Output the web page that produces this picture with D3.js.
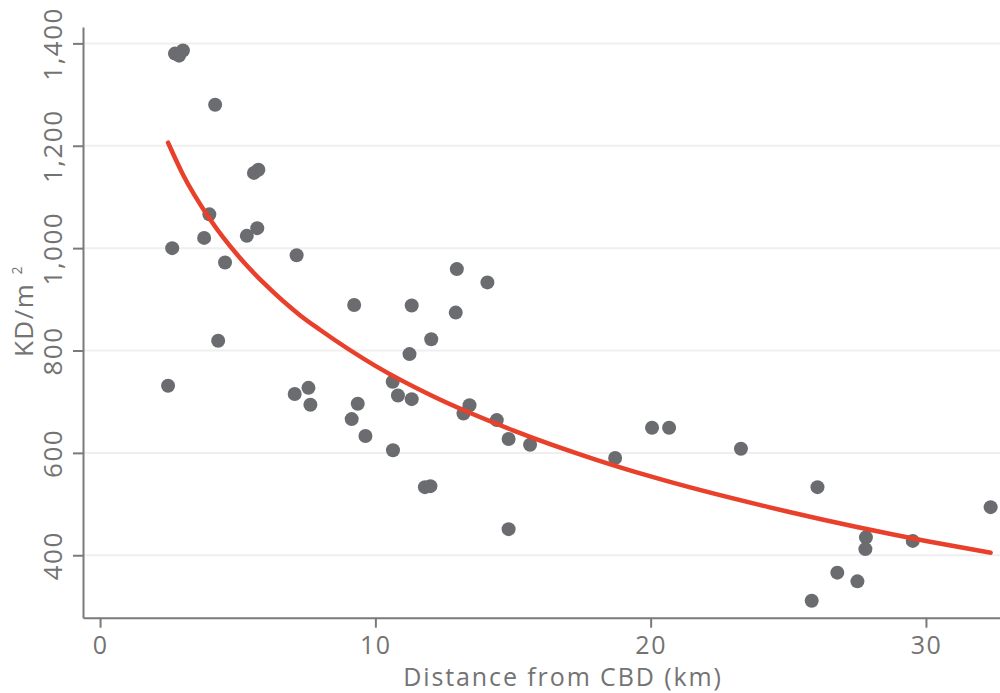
<!DOCTYPE html>
<html>
<head>
<meta charset="utf-8">
<script src="https://cdn.jsdelivr.net/npm/d3@7"></script>
<style>
  html, body { margin: 0; padding: 0; background: #fff; }
  svg { display: block; }
  text { font-family: "Open Sans", sans-serif; fill: #737373; letter-spacing: 1.5px; }
</style>
</head>
<body>
<svg id="chart" width="1000" height="693"></svg>
<script>
// Scatter data: distance from CBD (km) and KD/m²
const distKm = [2.47, 2.62, 2.72, 2.87, 3.01, 4.18, 3.78, 3.97, 4.54, 4.29,
  5.33, 5.71, 5.59, 5.75, 7.14, 9.23, 11.32, 12.96, 14.07, 12.92,
  12.03, 11.24, 7.07, 7.57, 7.64, 9.36, 9.14, 9.64, 10.64, 10.63,
  10.82, 11.32, 13.42, 13.2, 14.41, 14.84, 15.62, 11.8, 12.0, 14.84,
  18.71, 20.05, 20.67, 23.28, 26.06, 27.82, 27.8, 29.52, 32.35, 26.78,
  27.51, 25.85];
const kdValues = [731, 1000, 1380, 1376, 1386, 1280, 1020, 1066, 972, 819,
  1024, 1039, 1147, 1153, 986, 889, 888, 959, 933, 874,
  822, 793, 715, 727, 694, 696, 666, 633, 605, 739,
  712, 705, 693, 677, 664, 627, 616, 533, 535, 451,
  590, 649, 649, 608, 533, 435, 412, 428, 494, 366,
  349, 311];

// Trend line, points
const trendX = [2.47, 3, 4, 5, 6, 7.26, 8, 10, 12, 15, 18, 20, 25, 30, 32.35];
const trendY = [1206, 1145, 1056, 986, 929, 869, 840, 770, 713, 644, 587, 554, 485, 428, 405];

const xTicks = [0, 10, 20, 30];
const yTicks = [400, 600, 800, 1000, 1200, 1400];

const svg = d3.select("#chart");
const x = d3.scaleLinear().domain([-0.62, 32.69]).range([83, 1000]);
const y = d3.scaleLinear().domain([278, 1432]).range([617.7, 27]);

const axisColor = "#7a7a7a";

// gridlines
svg.append("g").selectAll("line").data(yTicks).join("line")
  .attr("x1", 83).attr("x2", 1000)
  .attr("y1", d => y(d)).attr("y2", d => y(d))
  .attr("stroke", "#efefef").attr("stroke-width", 2);

// x axis
const gx = svg.append("g").attr("transform", `translate(0,${y.range()[0]})`)
  .call(d3.axisBottom(x).tickValues(xTicks).tickSizeOuter(0).tickSizeInner(10).tickPadding(0).tickFormat(d3.format("d")));
gx.select(".domain").attr("stroke", axisColor).attr("stroke-width", 2);
gx.selectAll(".tick line").attr("stroke", axisColor).attr("stroke-width", 2);
gx.selectAll(".tick text").attr("font-size", 25).attr("fill", "#737373")
  .attr("font-family", "Open Sans").attr("y", 36).attr("dy", null);

// y axis
const gy = svg.append("g").attr("transform", `translate(83,0)`)
  .call(d3.axisLeft(y).tickValues(yTicks).tickSizeOuter(0).tickSizeInner(10).tickFormat(d3.format(",")));
gy.select(".domain").attr("stroke", axisColor).attr("stroke-width", 2);
gy.selectAll(".tick line").attr("stroke", axisColor).attr("stroke-width", 2);
gy.selectAll(".tick text")
  .attr("font-size", 26).attr("fill", "#737373").attr("font-family", "Open Sans")
  .attr("x", null).attr("dy", null)
  .attr("text-anchor", "middle")
  .attr("transform", "translate(-21,0) rotate(-90)");

// axis titles
svg.append("text")
  .attr("x", 563).attr("y", 686)
  .attr("text-anchor", "middle").attr("font-size", 25)
  .style("letter-spacing", "1.9px")
  .text("Distance from CBD (km)");

const yl = svg.append("text")
  .attr("transform", "translate(33,311) rotate(-90)")
  .attr("text-anchor", "middle").attr("font-size", 26);
yl.append("tspan").text("KD/m ");
yl.append("tspan").attr("font-size", 14).attr("dy", -11).text("2");

// points
svg.append("g").selectAll("circle").data(distKm.map((d, i) => [d, kdValues[i]])).join("circle")
  .attr("cx", d => x(d[0])).attr("cy", d => y(d[1])).attr("r", 7)
  .attr("fill", "#6b6c70");

// trend line
const line = d3.line().x(d => x(d[0])).y(d => y(d[1])).curve(d3.curveMonotoneX);
svg.append("path").datum(trendX.map((d, i) => [d, trendY[i]]))
  .attr("d", line).attr("fill", "none")
  .attr("stroke", "#e8402a").attr("stroke-width", 4.5).attr("stroke-linecap", "round");
</script>
</body>
</html>
